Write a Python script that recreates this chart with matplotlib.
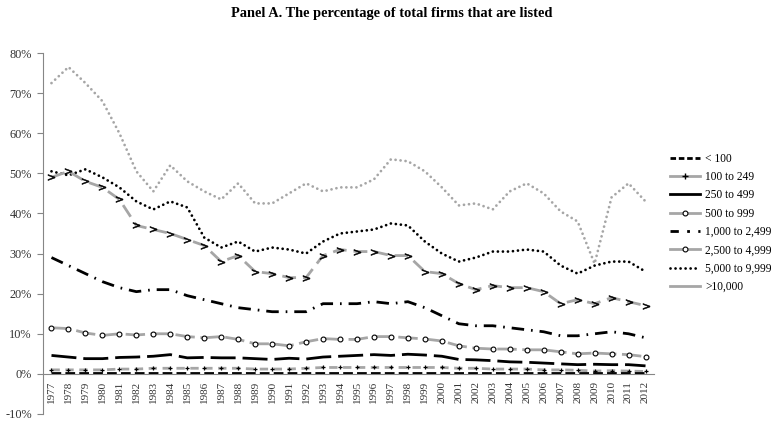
import matplotlib.pyplot as plt
from matplotlib.lines import Line2D
from matplotlib.ticker import FuncFormatter

years = list(range(1977, 2013))

# percentage of listed firms by firm-size class
lt100 = [0.1] * 36
s100_249 = [1.0, 1.0, 1.0, 1.0, 1.2, 1.2, 1.4, 1.4, 1.4, 1.4, 1.4, 1.4, 1.2, 1.2, 1.2, 1.4, 1.6, 1.6,
            1.6, 1.6, 1.6, 1.6, 1.6, 1.6, 1.4, 1.4, 1.2, 1.2, 1.2, 1.0, 1.0, 0.9, 0.7, 0.8, 0.7, 0.6]
s250_499 = [4.6, 4.2, 3.8, 3.8, 4.1, 4.2, 4.4, 4.8, 4.0, 4.1, 4.0, 4.0, 3.8, 3.6, 3.9, 3.7, 4.2, 4.4,
            4.6, 4.8, 4.6, 4.9, 4.7, 4.4, 3.6, 3.5, 3.3, 3.0, 2.9, 2.7, 2.5, 2.3, 2.4, 2.3, 2.3, 2.0]
s500_999 = [11.5, 11.3, 10.2, 9.6, 10.0, 9.7, 10.0, 10.0, 9.3, 9.0, 9.3, 8.6, 7.5, 7.5, 7.0, 8.0, 8.8, 8.6,
            8.6, 9.3, 9.3, 9.0, 8.7, 8.2, 7.0, 6.4, 6.2, 6.2, 6.0, 6.0, 5.5, 5.0, 5.2, 5.0, 4.8, 4.3]
s1000_2499 = [29.0, 27.0, 25.0, 23.0, 21.5, 20.5, 21.0, 21.0, 19.5, 18.5, 17.5, 16.5, 16.0, 15.5, 15.5, 15.5,
              17.5, 17.5, 17.5, 18.0, 17.5, 18.0, 16.5, 14.5, 12.5, 12.0, 12.0, 11.5, 11.0, 10.5, 9.5, 9.5,
              10.0, 10.5, 10.0, 9.0]
s2500_4999 = [49.0, 50.5, 48.0, 46.5, 43.5, 37.0, 36.0, 35.0, 33.5, 32.0, 28.0, 29.5, 25.5, 25.0, 24.0, 24.0,
              29.5, 31.0, 30.5, 30.5, 29.5, 29.5, 25.5, 25.0, 22.5, 21.0, 22.0, 21.5, 21.5, 20.5, 17.5, 18.5,
              17.5, 19.0, 18.0, 17.0]
s5000_9999 = [50.5, 49.5, 51.0, 49.0, 46.5, 43.0, 41.0, 43.0, 41.5, 34.0, 31.5, 33.0, 30.5, 31.5, 31.0, 30.0,
              33.0, 35.0, 35.5, 36.0, 37.5, 37.0, 33.0, 30.0, 28.0, 29.0, 30.5, 30.5, 31.0, 30.5, 27.0, 25.0,
              27.0, 28.0, 28.0, 25.5]
gt10000 = [72.5, 76.5, 72.5, 68.0, 60.0, 50.5, 45.5, 52.0, 48.0, 45.5, 43.5, 47.5, 42.5, 42.5, 45.0, 47.5,
           45.5, 46.5, 46.5, 48.5, 53.5, 53.0, 50.5, 46.5, 42.0, 42.5, 41.0, 45.5, 47.5, 45.0, 40.5, 38.0,
           27.5, 44.0, 47.5, 43.0]

labels = ['< 100', '100 to 249', '250 to 499', '500 to 999', '1,000 to 2,499',
          '2,500 to 4,999', '5,000 to 9,999', '>10,000']

plt.rcParams['font.family'] = ['Liberation Serif', 'DejaVu Serif']

gray = '#a6a6a6'
lw = 2.0
dlw = 2.0
dots = (0, (0.01, 1.8))

fig = plt.figure(figsize=(7.83, 4.24), dpi=100)
ax = fig.add_axes([43 / 783, 10 / 424, 611 / 783, 361 / 424])

ax.plot(years, gt10000, color=gray, lw=dlw, ls=dots, dash_capstyle='round')
ax.plot(years, s5000_9999, color='black', lw=dlw, ls=dots, dash_capstyle='round')
ax.plot(years, s2500_4999, color=gray, lw=lw, ls=(0, (5, 2.5)), marker='$>$', ms=5,
        mfc='black', mec='black', mew=0.4)
ax.plot(years, s1000_2499, color='black', lw=lw, ls=(0, (4.5, 2.5, 0.6, 2.5)))
ax.plot(years, s500_999, color=gray, lw=lw, ls=(0, (7, 2)), marker='o', ms=3.5,
        mfc='white', mec='black', mew=0.8)
ax.plot(years, s250_499, color='black', lw=lw, ls=(0, (9, 2.5)))
ax.plot(years, s100_249, color=gray, lw=lw, ls=(0, (3, 2)), marker='+', ms=3.5, mec='black', mew=0.9)
ax.plot(years, lt100, color='black', lw=lw, ls=(0, (3.5, 1.5)))

for s in ['top', 'right']:
    ax.spines[s].set_visible(False)
ax.spines['left'].set_color('#868686')
ax.spines['bottom'].set_color('#868686')
ax.spines['bottom'].set_position(('data', 0))

ax.set_xlim(1976.5, 2012.5)
ax.set_ylim(-10, 80)
ax.set_yticks(range(-10, 81, 10))
ax.yaxis.set_major_formatter(FuncFormatter(lambda v, p: '%d%%' % v))
ax.set_xticks(years)
ax.set_xticklabels([str(y) for y in years], rotation=90, fontsize=8)

ax.tick_params(axis='y', colors='#868686', labelcolor='#333333', labelsize=8.8, length=4, width=0.8, pad=4)
ax.tick_params(axis='x', labelcolor='#333333', length=0, pad=5)

handles = [
    Line2D([], [], color='black', lw=lw, ls=(0, (2, 1))),
    Line2D([], [], color=gray, lw=lw, marker='+', ms=4, mec='black', mew=1),
    Line2D([], [], color='black', lw=lw),
    Line2D([], [], color=gray, lw=lw, marker='o', ms=3.5, mfc='white', mec='black', mew=0.8),
    Line2D([], [], color='black', lw=lw, ls=(0, (3, 3, 1, 3))),
    Line2D([], [], color=gray, lw=lw, marker='o', ms=3.5, mfc='white', mec='black', mew=0.8),
    Line2D([], [], color='black', lw=dlw, ls=dots, dash_capstyle='round'),
    Line2D([], [], color=gray, lw=lw),
]
fig.legend(handles, labels, loc='upper left', bbox_to_anchor=(665 / 783, 1 - 148 / 424),
           frameon=False, fontsize=8.3, handlelength=2.6, handletextpad=0.5,
           labelspacing=0.55, borderaxespad=0)

fig.suptitle('Panel A. The percentage of total firms that are listed', fontsize=10.4,
             fontweight='bold', y=1 - 7 / 424, va='top')

fig.savefig('out.png', dpi=100)
